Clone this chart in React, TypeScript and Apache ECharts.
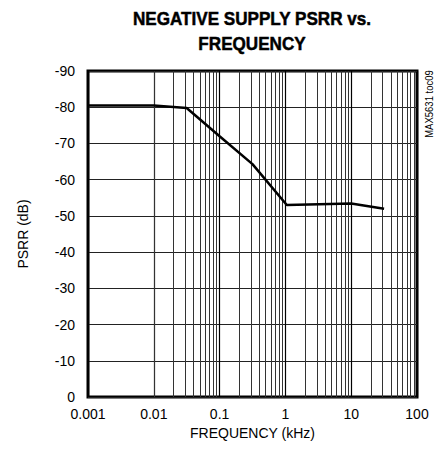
import React, { useEffect, useRef } from "react";
import * as echarts from "echarts";

const freqKHz = [0.001, 0.01, 0.0316, 0.1, 0.316, 1.05, 10, 31.6];
const psrrDb = [-80.5, -80.5, -79.8, -72, -64.3, -53, -53.4, -52];
const decades = [0.001, 0.01, 0.1, 1, 10];
const minorMultipliers = [2, 3, 4, 5, 6, 7, 8, 9];
const yTicks = [-90, -80, -70, -60, -50, -40, -30, -20, -10, 0];

const narrow = '"Liberation Sans Narrow", "Arial Narrow", "Liberation Sans", Arial, sans-serif';

export default function App() {
  const ref = useRef<HTMLDivElement>(null);
  useEffect(() => {
    if (!ref.current) return;
    const chart = echarts.init(ref.current, null, { renderer: "svg" });
    const minorLines: { xAxis: number }[] = [];
    decades.forEach((d) => minorMultipliers.forEach((m) => minorLines.push({ xAxis: d * m })));
    const data = freqKHz.map((f, i) => [f, psrrDb[i]]);
    chart.setOption({
      animation: false,
      backgroundColor: "#fff",
      grid: {
        left: 88,
        top: 71,
        width: 329,
        height: 326,
        show: true,
        borderColor: "#000",
        borderWidth: 3,
        backgroundColor: "transparent",
      },
      xAxis: {
        type: "log",
        logBase: 10,
        min: 0.001,
        max: 100,
        name: "FREQUENCY (kHz)",
        nameLocation: "middle",
        nameGap: 29,
        nameTextStyle: { fontFamily: narrow, fontSize: 14, color: "#000" },
        axisLine: { show: false },
        axisTick: { show: false },
        axisLabel: {
          fontFamily: narrow,
          fontSize: 14,
          color: "#000",
          margin: 10,
          formatter: (v: number) => String(parseFloat(v.toPrecision(3))),
        },
        splitLine: { show: true, lineStyle: { color: "#000", width: 1.2 } },
      },
      yAxis: {
        type: "value",
        inverse: true,
        min: -90,
        max: 0,
        interval: 10,
        name: "PSRR (dB)",
        nameLocation: "middle",
        nameGap: 58,
        nameRotate: 90,
        nameTextStyle: { fontFamily: narrow, fontSize: 14, color: "#000" },
        axisLine: { show: false },
        axisTick: { show: false },
        axisLabel: {
          fontFamily: narrow,
          fontSize: 14,
          color: "#000",
          margin: 13,
          formatter: (v: number) => (yTicks.includes(v) ? String(v) : ""),
        },
        splitLine: { show: true, lineStyle: { color: "#222", width: 1.2 } },
      },
      graphic: [
        {
          type: "text",
          x: 252,
          y: 19,
          scaleX: 0.9,
          style: {
            text: "NEGATIVE SUPPLY PSRR vs.",
            fontFamily: narrow,
            fontWeight: 900,
            fontSize: 19,
            fill: "#000",
            stroke: "#000",
            lineWidth: 0.5,
            align: "center",
            verticalAlign: "middle",
          },
        },
        {
          type: "text",
          x: 252,
          y: 44,
          scaleX: 0.9,
          style: {
            text: "FREQUENCY",
            fontFamily: narrow,
            fontWeight: 900,
            fontSize: 19,
            fill: "#000",
            stroke: "#000",
            lineWidth: 0.5,
            align: "center",
            verticalAlign: "middle",
          },
        },
        {
          type: "text",
          x: 429,
          y: 104,
          rotation: Math.PI / 2,
          scaleX: 0.95,
          style: {
            text: "MAX5631 toc09",
            fontFamily: narrow,
            fontSize: 10,
            fill: "#000",
            align: "center",
            verticalAlign: "middle",
          },
        },
      ],
      series: [
        {
          type: "line",
          data,
          symbol: "none",
          lineStyle: { color: "#000", width: 2.5 },
          z: 5,
          markLine: {
            silent: true,
            symbol: "none",
            label: { show: false },
            lineStyle: { color: "#333", width: 1, type: "solid" },
            data: minorLines,
            z: 1,
          },
        },
      ],
    });
    return () => chart.dispose();
  }, []);
  return (
    <div
      ref={ref}
      style={{ position: "fixed", left: 0, top: 0, width: 445, height: 457 }}
    />
  );
}
